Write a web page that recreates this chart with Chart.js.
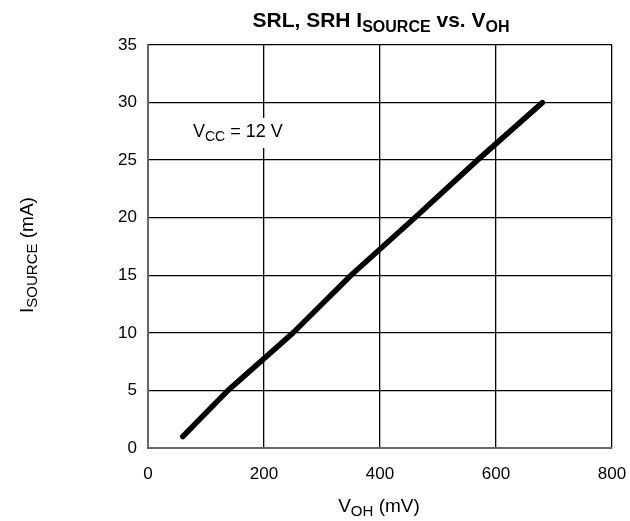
<!DOCTYPE html>
<html>
<head>
<meta charset="utf-8">
<script src="https://cdn.jsdelivr.net/npm/chart.js@4.4.1/dist/chart.umd.min.js"></script>
<style>
  body { margin: 0; background: #fff; }
  #wrap { width: 630px; height: 521px; }
</style>
</head>
<body>
<div id="wrap"><canvas id="ivChart" width="630" height="521"></canvas></div>
<script>
// values
const vohMv = [60, 138, 250, 350, 460, 568, 680];
const isourceMa = [1, 5, 10, 15, 20, 25, 30];
const xTickStep = 200;
const yTickStep = 5;

const FONT = "'Liberation Sans', Arial, Helvetica, sans-serif";

// draws a run of text pieces, some of them as subscripts
function drawRich(ctx, parts, x, y, align) {
    let total = 0;
    parts.forEach(p => {
        ctx.font = (p.bold ? "bold " : "") + p.size + "px " + FONT;
        p.w = ctx.measureText(p.t).width;
        total += p.w;
    });
    let cx = align === "center" ? x - total / 2 : x;
    ctx.textBaseline = "alphabetic";
    ctx.textAlign = "left";
    parts.forEach(p => {
        ctx.font = (p.bold ? "bold " : "") + p.size + "px " + FONT;
        ctx.fillText(p.t, cx, y + (p.dy || 0));
        cx += p.w;
    });
    return total;
}

const labelsPlugin = {
    id: "labels",
    afterDraw(chart) {
        const ctx = chart.ctx;
        ctx.save();
        ctx.fillStyle = "#000";

        drawRich(ctx, [
            { t: "SRL, SRH I", size: 21, bold: true },
            { t: "SOURCE", size: 16, bold: true, dy: 5 },
            { t: " vs. V", size: 21, bold: true },
            { t: "OH", size: 16, bold: true, dy: 5 }
        ], 381, 27, "center");

        drawRich(ctx, [
            { t: "V", size: 19 },
            { t: "OH", size: 15, dy: 4 },
            { t: " (mV)", size: 19 }
        ], 379, 512, "center");

        ctx.save();
        ctx.translate(33, 255);
        ctx.rotate(-Math.PI / 2);
        drawRich(ctx, [
            { t: "I", size: 19 },
            { t: "SOURCE", size: 15, dy: 4 },
            { t: " (mA)", size: 19 }
        ], 0, 0, "center");
        ctx.restore();

        // condition note with white box over the grid
        ctx.fillStyle = "#fff";
        ctx.fillRect(189, 118, 98, 30);
        ctx.fillStyle = "#000";
        drawRich(ctx, [
            { t: "V", size: 18 },
            { t: "CC", size: 14, dy: 4 },
            { t: " = 12 V", size: 18 }
        ], 193, 137, "left");

        ctx.restore();
    }
};

const points = vohMv.map((v, i) => ({ x: v, y: isourceMa[i] }));

new Chart(document.getElementById("ivChart").getContext("2d"), {
    type: "scatter",
    data: {
        datasets: [{
            data: points,
            showLine: true,
            borderColor: "#000",
            borderWidth: 5.5,
            borderCapStyle: "round",
            borderJoinStyle: "round",
            pointRadius: 0,
            tension: 0
        }]
    },
    options: {
        responsive: false,
        animation: false,
        layout: { padding: { top: 45, right: 18, left: 0, bottom: 0 } },
        plugins: {
            legend: { display: false },
            title: { display: false },
            tooltip: { enabled: false }
        },
        scales: {
            x: {
                type: "linear",
                min: 0,
                max: 800,
                afterFit: s => {
                    s.height = 73;
                    s.paddingLeft = 0;
                    s.paddingRight = 0;
                },
                ticks: {
                    stepSize: xTickStep,
                    padding: 16,
                    color: "#000",
                    font: { family: FONT, size: 17 }
                },
                grid: { color: "#000", lineWidth: 1.3, drawTicks: false },
                border: { display: true, color: "#666", width: 2 }
            },
            y: {
                min: 0,
                max: 35,
                afterFit: s => {
                    s.width = 148;
                    s.paddingTop = 0;
                    s.paddingBottom = 0;
                },
                ticks: {
                    stepSize: yTickStep,
                    padding: 11,
                    color: "#000",
                    font: { family: FONT, size: 17 }
                },
                grid: { color: "#000", lineWidth: 1.3, drawTicks: false },
                border: { display: true, color: "#666", width: 2 }
            }
        }
    },
    plugins: [labelsPlugin]
});
</script>
</body>
</html>
